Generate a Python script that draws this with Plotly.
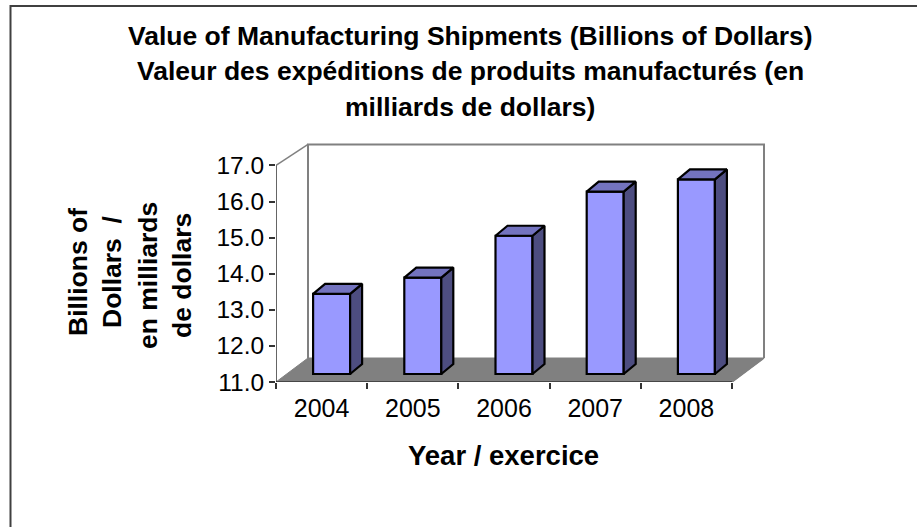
import plotly.graph_objects as go

years = [2004, 2005, 2006, 2007, 2008]
values = [13.22, 13.67, 14.83, 16.05, 16.39]
y_ticks = [11, 12, 13, 14, 15, 16, 17]
title_lines = ["Value of Manufacturing Shipments (Billions of Dollars)",
               "Valeur des expéditions de produits manufacturés (en",
               "milliards de dollars)"]
y_title_lines = ["Billions of", "Dollars  /", "en milliards", "de dollars"]
x_title = "Year / exercice"

W, H = 917, 527
L, R, T, B = 276, 770, 140, 382
PX_X = 91.2
PX_Y = 36.1
FONT = "Liberation Sans, Arial, sans-serif"

x0 = years[0] - 0.5
x1 = years[-1] + 0.5
x_max = x0 + (R - L) / PX_X
y_min = y_ticks[0]
y_top = y_ticks[-1]
y_max = y_min + (B - T) / PX_Y

wall_dx = 32 / PX_X
wall_floor_dy = 24 / PX_Y
wall_top_dy = 21 / PX_Y
bar_shift = 10 / PX_X
bar_width = 37 / PX_X
bar_lift = 8 / PX_Y
depth_dx = 12 / PX_X
depth_dy = 10 / PX_Y

FRONT = "#9999FF"
TOP = "#7373BF"
SIDE = "#4D4D80"
GREY = "#808080"
AXIS = "#333333"


def px(x):
    return (x - L) / (R - L)


def py(y):
    return (B - y) / (B - T)


def poly(points, **kw):
    path = "M " + " L ".join(f"{a},{b}" for a, b in points)
    if kw.pop("closed", True):
        path += " Z"
    return dict(type="path", path=path, xref="x", yref="y", layer="below", **kw)


shapes = [
    # outer frame, running past the right and bottom of the page
    dict(type="path", xref="paper", yref="paper", layer="below",
         path=f"M {px(10.5)},{py(560)} L {px(10.5)},{py(6)} L {px(960)},{py(6)}",
         line=dict(color="#404040", width=2)),
    # floor
    poly([(x0, y_min), (x0 + wall_dx, y_min + wall_floor_dy),
          (x1 + wall_dx, y_min + wall_floor_dy), (x1, y_min)],
         fillcolor=GREY, line=dict(color=GREY, width=1)),
    # back wall
    poly([(x0 + wall_dx, y_min + wall_floor_dy), (x0 + wall_dx, y_top + wall_top_dy),
          (x1 + wall_dx, y_top + wall_top_dy), (x1 + wall_dx, y_min + wall_floor_dy)],
         closed=False, line=dict(color=GREY, width=2)),
    # side wall top edge
    poly([(x0, y_top), (x0 + wall_dx, y_top + wall_top_dy)], closed=False,
         line=dict(color=GREY, width=1.5)),
    # floor edge on the right
    poly([(x1, y_min), (x1 + wall_dx, y_min + wall_floor_dy)], closed=False,
         line=dict(color=GREY, width=1.5)),
    # axis lines
    poly([(x0, y_top), (x0, y_min), (x1, y_min)], closed=False,
         line=dict(color=AXIS, width=1.5)),
]

fig = go.Figure()
fig.add_trace(go.Bar(
    x=[y + bar_shift for y in years],
    y=[v - y_min for v in values],
    base=y_min + bar_lift,
    width=bar_width,
    marker=dict(color=FRONT, line=dict(color="#000000", width=2.2)),
    showlegend=False,
    hoverinfo="skip",
))

for yr, v in zip(years, values):
    left = yr + bar_shift - bar_width / 2
    right = yr + bar_shift + bar_width / 2
    top = v + bar_lift
    bottom = y_min + bar_lift
    fig.add_trace(go.Scatter(
        x=[right, right + depth_dx, right + depth_dx, right, right],
        y=[bottom, bottom + depth_dy, top + depth_dy, top, bottom],
        mode="lines", fill="toself", fillcolor=SIDE,
        line=dict(color="#000000", width=2.2), showlegend=False, hoverinfo="skip"))
    fig.add_trace(go.Scatter(
        x=[left, left + depth_dx, right + depth_dx, right, left],
        y=[top, top + depth_dy, top + depth_dy, top, top],
        mode="lines", fill="toself", fillcolor=TOP,
        line=dict(color="#000000", width=2.2), showlegend=False, hoverinfo="skip"))

annotations = []
for text, cy in zip(title_lines, [36, 71, 107]):
    annotations.append(dict(text=f"<b>{text}</b>", x=px(470), y=py(cy), xref="paper", yref="paper",
                            xanchor="center", yanchor="middle", showarrow=False,
                            font=dict(family=FONT, size=26.5, color="#000000")))
for text, cx, cy in zip(y_title_lines, [78, 112, 148, 182], [272, 272, 276, 276]):
    annotations.append(dict(text=f"<b>{text}</b>", x=px(cx), y=py(cy), xref="paper", yref="paper",
                            xanchor="center", yanchor="middle", showarrow=False, textangle=-90,
                            font=dict(family=FONT, size=26.5, color="#000000")))
annotations.append(dict(text=f"<b>{x_title}</b>", x=px(503), y=py(455), xref="paper", yref="paper",
                        xanchor="center", yanchor="middle", showarrow=False,
                        font=dict(family=FONT, size=27.5, color="#000000")))

fig.update_layout(
    width=W, height=H, autosize=False,
    margin=dict(l=L, r=W - R, t=T, b=H - B, pad=0),
    paper_bgcolor="#FFFFFF", plot_bgcolor="rgba(0,0,0,0)",
    showlegend=False, shapes=shapes, annotations=annotations,
    xaxis=dict(range=[x0, x_max], tickmode="array", tickvals=years,
               ticktext=[str(y) for y in years], ticks="", showgrid=False, zeroline=False,
               showline=False, ticklabelstandoff=9,
               tickfont=dict(family=FONT, size=25, color="#000000"),
               minor=dict(tickmode="array", tickvals=[x0 + i for i in range(len(years) + 1)],
                          ticks="outside", ticklen=6, tickwidth=1.5, tickcolor=AXIS, showgrid=False)),
    yaxis=dict(range=[y_min, y_max], tickmode="array", tickvals=y_ticks,
               ticktext=[f"{t:.1f}" for t in y_ticks], ticks="outside", ticklen=6,
               tickwidth=1.5, tickcolor=AXIS, showgrid=False, zeroline=False, showline=False,
               ticklabelstandoff=0,
               tickfont=dict(family=FONT, size=24.5, color="#000000")),
)

fig.write_html("out.html", config=dict(displayModeBar=False),
               post_script="document.body.style.margin='0';document.body.style.overflow='hidden';")
